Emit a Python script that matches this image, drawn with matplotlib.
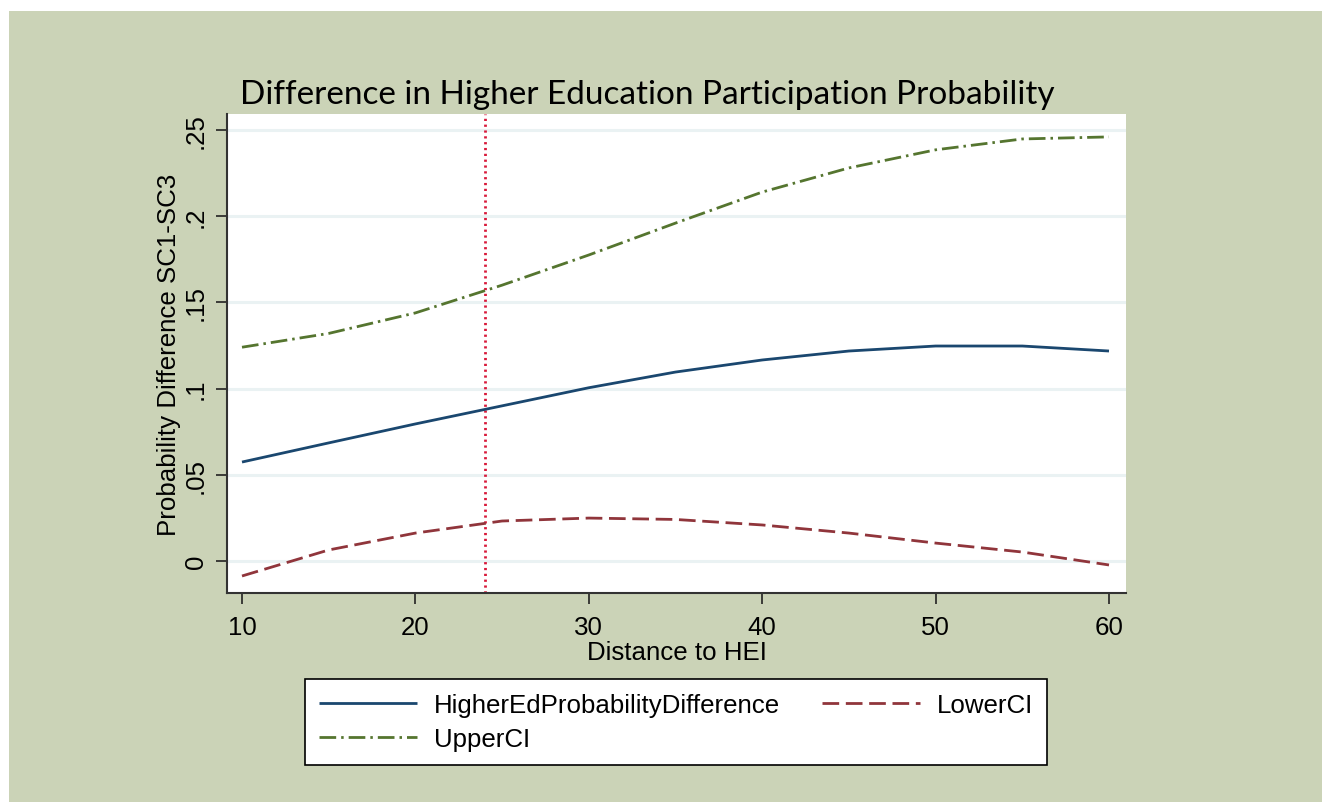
import matplotlib
matplotlib.use("Agg")
import matplotlib.pyplot as plt
from matplotlib.patches import Rectangle

distance = [10, 15, 20, 25, 30, 35, 40, 45, 50, 55, 60]
prob_diff = [0.0574, 0.0685, 0.0795, 0.0900, 0.1005, 0.1096, 0.1166, 0.1218, 0.1247, 0.1247, 0.1218]
lower_ci = [-0.0087, 0.0064, 0.0162, 0.0232, 0.0249, 0.0241, 0.0209, 0.0162, 0.0104, 0.0052, -0.0023]
upper_ci = [0.1240, 0.1320, 0.1439, 0.1600, 0.1775, 0.1960, 0.2140, 0.2280, 0.2385, 0.2448, 0.2460]
xline_at = 24
xticks = [10, 20, 30, 40, 50, 60]
yticks = [0, 0.05, 0.1, 0.15, 0.2, 0.25]
ytick_labels = ["0", ".05", ".1", ".15", ".2", ".25"]

W, H = 1322, 803
FS = 18.6
SANS = ["Liberation Sans", "DejaVu Sans"]

fig = plt.figure(figsize=(W / 100, H / 100), dpi=100)
fig.patch.set_facecolor("white")
bg = "#CBD3B7"
fig.patches.append(Rectangle((9 / W, 0), 1 - 9 / W, 1 - 12 / H, transform=fig.transFigure,
                             facecolor=bg, edgecolor="none", zorder=-10))

ax = fig.add_axes([227 / W, 1 - 594 / H, (1126 - 227) / W, (594 - 115) / H])
ax.set_facecolor("white")

c_blue = "#1A476F"
c_red = "#90353B"
c_green = "#55752F"

l1, = ax.plot(distance, prob_diff, color=c_blue, lw=2.0, solid_capstyle="butt")
l2, = ax.plot(distance, lower_ci, color=c_red, lw=2.0, dashes=(6, 2.4))
l3, = ax.plot(distance, upper_ci, color=c_green, lw=2.0, dashes=(6, 1.8, 0.9, 1.8))
ax.axvline(xline_at, color="#D8193A", lw=2.0, dashes=(0.8, 1.3), zorder=1)

x0 = 10 - (242 - 227) / 17.34
x1 = 60 + (1126 - 1109) / 17.34
ax.set_xlim(x0, x1)
y0 = -(594 - 562) / 1724.0
y1 = (562 - 115) / 1724.0
ax.set_ylim(y0, y1)

ax.set_yticks(yticks)
ax.set_yticklabels(ytick_labels, rotation=90, va="center")
ax.set_xticks(xticks)
ax.grid(axis="y", color="#EAF2F3", lw=2.2)
ax.set_axisbelow(True)

for s in ["top", "right"]:
    ax.spines[s].set_visible(False)
for s in ["left", "bottom"]:
    ax.spines[s].set_color("#333333")
    ax.spines[s].set_linewidth(1.5)

ax.tick_params(axis="both", direction="out", length=8, width=1.2, color="#222222",
               labelsize=FS)
ax.tick_params(axis="x", pad=8)
ax.tick_params(axis="y", pad=6)
for lab in ax.get_xticklabels() + ax.get_yticklabels():
    lab.set_family(SANS)

ax.set_xlabel("Distance to HEI", fontsize=FS, family=SANS, labelpad=0.5)
ax.set_ylabel("Probability Difference SC1-SC3", fontsize=FS, family=SANS, labelpad=2)

fig.text(240 / W, 1 - 104 / H, "Difference in Higher Education Participation Probability",
         fontsize=24, family=["Lato", "DejaVu Sans"], ha="left", va="baseline")

leg = fig.legend([l1, l3, l2], ["HigherEdProbabilityDifference", "UpperCI", "LowerCI"],
                 loc="center", bbox_to_anchor=((305 + 1047) / 2 / W, 1 - (680 + 766) / 2 / H),
                 ncol=2, frameon=True, fancybox=False, edgecolor="black", facecolor="white",
                 framealpha=1.0,
                 prop=dict(family=SANS, size=FS),
                 handlelength=3.8, handletextpad=0.65, columnspacing=1.6, labelspacing=0.4,
                 borderpad=0.55, borderaxespad=0)
leg.get_frame().set_linewidth(1.2)

fig.savefig("out.png", dpi=100, facecolor=fig.get_facecolor())
